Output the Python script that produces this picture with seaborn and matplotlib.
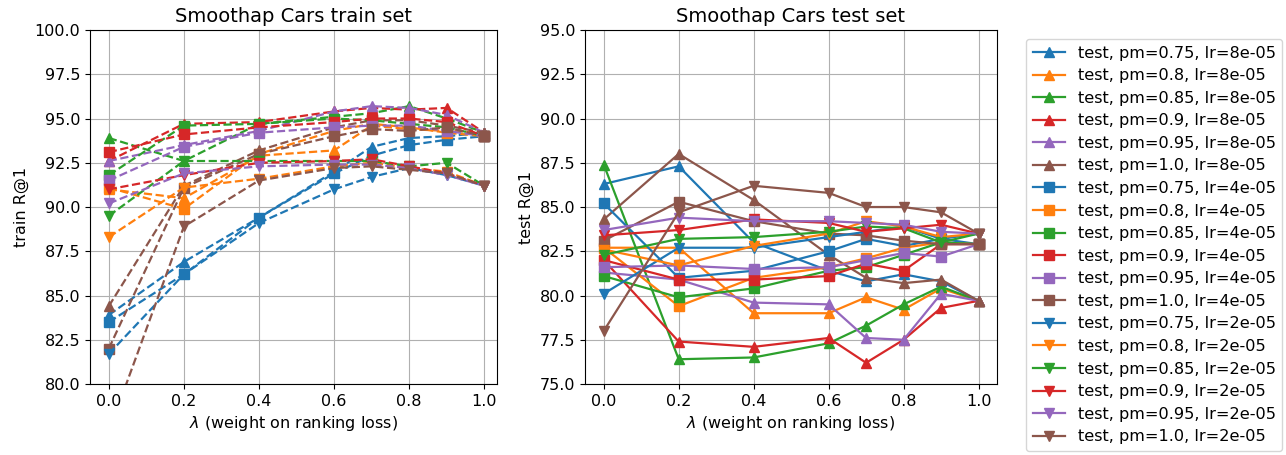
"""Smoothap Cars: train / test R@1 against the ranking-loss weight."""

import matplotlib

matplotlib.use("Agg")
import matplotlib.pyplot as plt
import seaborn as sns

lambdas = [0.0, 0.2, 0.4, 0.6, 0.7, 0.8, 0.9, 1.0]
pm_values = ["0.75", "0.8", "0.85", "0.9", "0.95", "1.0"]
lr_values = ["8e-05", "4e-05", "2e-05"]
lr_markers = ["^", "s", "v"]
pm_colors = ["#1f77b4", "#ff7f0e", "#2ca02c", "#d62728", "#9467bd", "#8c564b"]

# train R@1, one row per pm
train_lr8e5 = [
    [83.9, 86.9, 89.4, 92.0, 93.4, 93.9, 94.0, 94.2],
    [91.0, 90.5, 92.9, 93.2, 94.6, 94.4, 94.3, 94.2],
    [93.9, 92.6, 94.7, 95.1, 95.3, 95.7, 95.0, 94.2],
    [92.6, 94.7, 94.8, 95.4, 95.6, 95.5, 95.6, 94.2],
    [92.6, 93.5, 94.3, 95.4, 95.7, 95.6, 95.2, 94.2],
    [84.4, 91.2, 93.2, 94.5, 94.9, 94.9, 94.6, 94.2],
]
train_lr4e5 = [
    [83.5, 86.2, 89.4, 91.9, 92.9, 93.5, 93.8, 94.0],
    [91.1, 89.9, 93.0, 94.3, 94.7, 94.5, 94.2, 94.0],
    [91.8, 94.6, 94.7, 95.0, 94.9, 94.7, 94.5, 94.0],
    [93.1, 94.1, 94.5, 94.8, 95.0, 95.0, 94.8, 94.0],
    [91.5, 93.4, 94.2, 94.5, 94.6, 94.6, 94.3, 94.0],
    [82.0, 91.1, 93.0, 94.0, 94.4, 94.3, 94.5, 94.0],
]
train_lr2e5 = [
    [81.7, 86.2, 89.1, 91.0, 91.7, 92.2, 91.8, 91.2],
    [88.3, 91.1, 91.6, 92.3, 92.5, 92.2, 92.0, 91.2],
    [89.5, 92.6, 92.6, 92.6, 92.6, 92.3, 92.5, 91.2],
    [91.0, 91.8, 92.5, 92.6, 92.7, 92.3, 91.9, 91.2],
    [90.2, 91.9, 92.3, 92.4, 92.4, 92.2, 91.8, 91.2],
    [77.3, 88.9, 91.5, 92.2, 92.3, 92.1, 91.9, 91.2],
]

# test R@1, one row per pm
test_lr8e5 = [
    [86.3, 87.3, 83.0, 81.4, 80.8, 81.2, 80.8, 79.7],
    [82.7, 82.7, 79.0, 79.0, 79.9, 79.2, 80.4, 79.7],
    [87.4, 76.4, 76.5, 77.3, 78.3, 79.5, 80.5, 79.7],
    [82.0, 77.4, 77.1, 77.6, 76.2, 77.5, 79.3, 79.7],
    [81.3, 80.9, 79.6, 79.5, 77.6, 77.5, 80.1, 79.7],
    [84.3, 88.0, 85.4, 82.3, 81.0, 80.7, 80.9, 79.7],
]
test_lr4e5 = [
    [85.2, 81.0, 81.4, 82.5, 83.2, 82.8, 83.2, 82.9],
    [82.7, 79.4, 81.0, 81.6, 82.1, 82.7, 83.0, 82.9],
    [81.1, 79.9, 80.4, 81.4, 81.6, 82.3, 83.0, 82.9],
    [82.0, 80.9, 80.9, 81.1, 81.8, 81.4, 82.9, 82.9],
    [81.6, 81.7, 81.5, 81.6, 82.0, 82.4, 82.2, 82.9],
    [83.1, 85.3, 84.2, 83.5, 83.4, 83.1, 82.9, 82.9],
]
test_lr2e5 = [
    [80.1, 82.7, 82.7, 83.3, 83.6, 83.9, 83.2, 83.5],
    [82.6, 81.7, 82.8, 83.5, 84.2, 83.9, 83.3, 83.5],
    [82.3, 83.2, 83.3, 83.6, 83.9, 83.8, 83.0, 83.5],
    [83.4, 83.7, 84.3, 84.1, 83.6, 83.8, 84.0, 83.5],
    [83.7, 84.4, 84.2, 84.2, 84.1, 84.0, 83.6, 83.5],
    [78.0, 84.7, 86.2, 85.8, 85.0, 85.0, 84.7, 83.5],
]

train_sets = [train_lr8e5, train_lr4e5, train_lr2e5]
test_sets = [test_lr8e5, test_lr4e5, test_lr2e5]

plt.rcParams["font.size"] = 11.5

fig = plt.figure(figsize=(12.86, 4.55), dpi=100)
ax_train = fig.add_axes([0.070, 0.156, 0.3165, 0.778])
ax_test = fig.add_axes([0.4549, 0.156, 0.320, 0.778])

for lr_idx, lr in enumerate(lr_values):
    for pm_idx, pm in enumerate(pm_values):
        color = pm_colors[pm_idx]
        marker = lr_markers[lr_idx]
        sns.lineplot(
            x=lambdas, y=train_sets[lr_idx][pm_idx], ax=ax_train,
            color=color, marker=marker, markersize=7, linestyle="--",
            markeredgecolor=color, markeredgewidth=1, linewidth=1.6,
            legend=False,
        )
        sns.lineplot(
            x=lambdas, y=test_sets[lr_idx][pm_idx], ax=ax_test,
            color=color, marker=marker, markersize=7,
            markeredgecolor=color, markeredgewidth=1, linewidth=1.6,
            label=f"test, pm={pm}, lr={lr}",
        )

for ax, name, ylim in [(ax_train, "train", (80, 100)), (ax_test, "test", (75, 95))]:
    ax.set_ylim(*ylim)
    ax.set_yticks([ylim[0] + 2.5 * i for i in range(9)])
    ax.yaxis.set_major_formatter(matplotlib.ticker.FormatStrFormatter("%.1f"))
    ax.set_xticks([0.0, 0.2, 0.4, 0.6, 0.8, 1.0])
    ax.grid(True, color="#b0b0b0", linewidth=0.8)
    ax.set_axisbelow(True)
    ax.set_title(f"Smoothap Cars {name} set", fontsize=14)
    ax.set_ylabel(f"{name} R@1")
    ax.set_xlabel(r"$\lambda$ (weight on ranking loss)")

ax_train.set_xlim(-0.05, 1.034)
ax_test.set_xlim(-0.05, 1.048)

ax_test.legend(
    loc="upper left", bbox_to_anchor=(0.798, 0.914), bbox_transform=fig.transFigure,
    borderaxespad=0, fontsize=11.6, labelspacing=0.47, handlelength=2.0,
)

fig.savefig("out.png", dpi=100)
